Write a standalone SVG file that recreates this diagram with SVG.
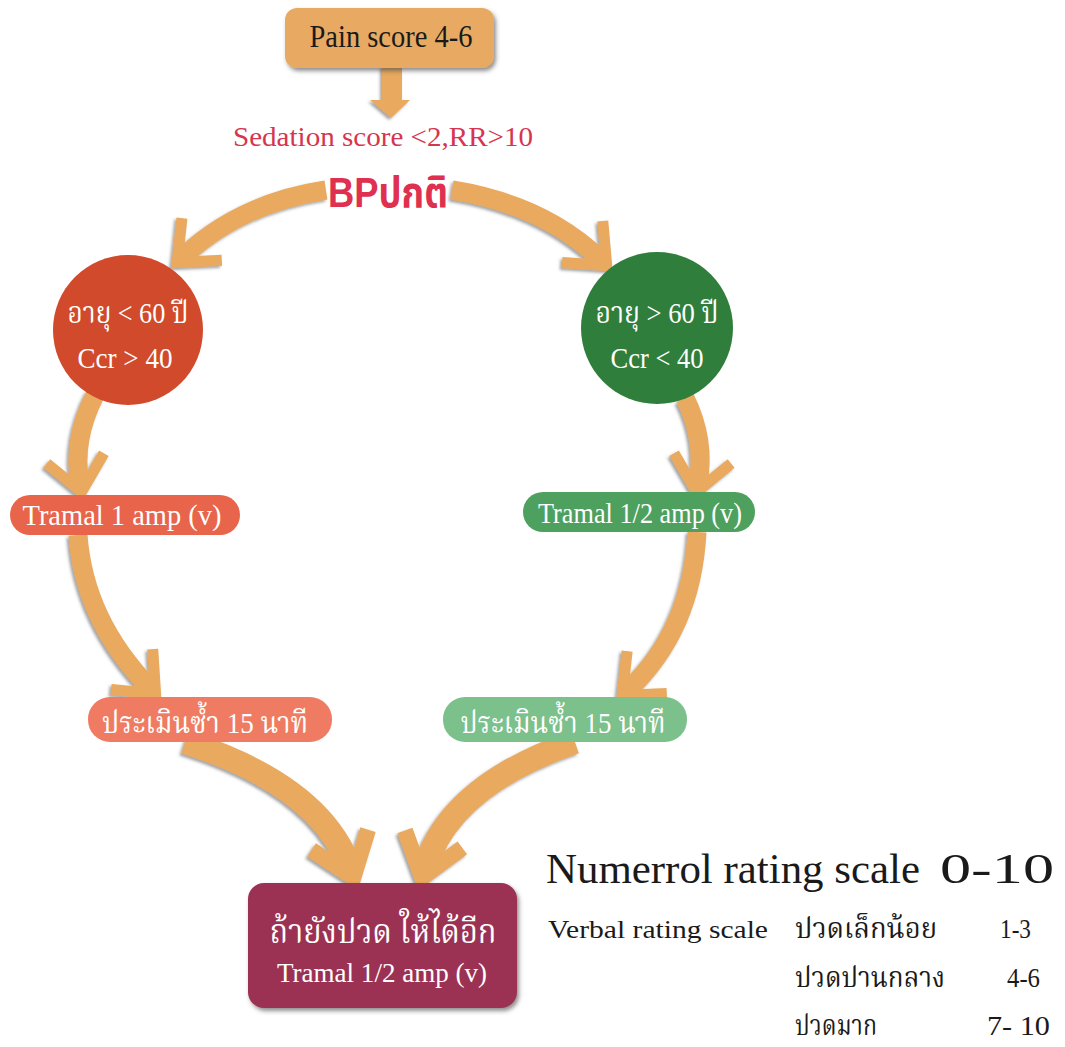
<svg xmlns="http://www.w3.org/2000/svg" width="1065" height="1047" viewBox="0 0 1065 1047">
<style>
.band{fill:none;stroke:#E9A95E;stroke-width:19;stroke-linecap:butt}
.wide{fill:none;stroke:#E9A95E;stroke-width:24;stroke-linecap:butt}
.lat{font-family:"Liberation Serif","Noto Serif Thai","Noto Sans Thai",serif}
.thai{font-family:"Liberation Serif","Noto Serif Thai","Noto Sans Thai","Noto Sans",serif}
.w{fill:#ffffff}
.k{fill:#1a1a1a}
</style>
<defs>
<filter id="sh" x="-20%" y="-20%" width="140%" height="140%">
<feDropShadow dx="-2" dy="2" stdDeviation="1.5" flood-color="#555555" flood-opacity="0.55"/>
</filter>
<filter id="bsh" x="-10%" y="-10%" width="120%" height="130%">
<feDropShadow dx="2" dy="3" stdDeviation="2" flood-color="#444444" flood-opacity="0.6"/>
</filter>
<marker id="chev" markerUnits="userSpaceOnUse" markerWidth="100" markerHeight="100" viewBox="-50 -50 100 100" refX="-8" refY="0" orient="auto" overflow="visible">
<path d="M -34 -29 L 0 0 L -34 29" fill="none" stroke="#E9A95E" stroke-width="11" stroke-linejoin="miter"/>
</marker>
<marker id="big" markerUnits="userSpaceOnUse" markerWidth="120" markerHeight="120" viewBox="-60 -60 120 120" refX="-10" refY="0" orient="auto" overflow="visible">
<path d="M -40 -30 L 0 0 L -40 30" fill="none" stroke="#E9A95E" stroke-width="16" stroke-linejoin="miter"/>
</marker>
</defs>
<rect width="1065" height="1047" fill="#ffffff"/>

<g id="connectors" filter="url(#sh)">
<polygon points="382,66 402,66 402,100 410,100 391,118 370,100 382,100" fill="#E9A95E"/>
<path class="band" d="M 326 190 Q 240 203 183 257" marker-end="url(#chev)"/>
<path class="band" d="M 452 190 Q 545 205 601 260" marker-end="url(#chev)"/>
<path class="band" d="M 95 395 Q 72 440 80 484" marker-end="url(#chev)"/>
<path class="band" d="M 78 535 Q 84 620 150 688" marker-end="url(#chev)"/>
<path class="band" d="M 685 398 Q 706 440 698 484" marker-end="url(#chev)"/>
<path class="band" d="M 697 532 Q 692 630 628 690" marker-end="url(#chev)"/>
<path class="wide" d="M 185 742 Q 320 785 350 868" marker-end="url(#big)"/>
<path class="wide" d="M 575 742 Q 450 785 425 868" marker-end="url(#big)"/>
</g>

<g id="pain">
<rect x="285" y="8" width="209" height="60" rx="12" fill="#E8AA62" filter="url(#bsh)"/>
<text x="391" y="47" class="lat k" font-size="31" text-anchor="middle" textLength="163" lengthAdjust="spacingAndGlyphs">Pain score 4-6</text>
</g>

<g id="sedation">
<text x="383" y="146" class="lat" font-size="28" fill="#D6354F" text-anchor="middle" textLength="300" lengthAdjust="spacingAndGlyphs">Sedation score &lt;2,RR&gt;10</text>
</g>

<g id="bp">
<text x="388" y="207" font-family="Liberation Sans, Noto Sans Thai, sans-serif" font-weight="bold" font-size="42" fill="#E0304F" stroke="#ffffff" stroke-width="2.5" paint-order="stroke" text-anchor="middle" textLength="120" lengthAdjust="spacingAndGlyphs">BPปกติ</text>
</g>

<g id="age-young">
<circle cx="128" cy="330" r="75" fill="#D14A2B"/>
<text x="128" y="323" class="thai w" font-size="30" text-anchor="middle" textLength="121" lengthAdjust="spacingAndGlyphs">อายุ &lt; 60 ปี</text>
<text x="125" y="368" class="lat w" font-size="29" text-anchor="middle" textLength="95" lengthAdjust="spacingAndGlyphs">Ccr &gt; 40</text>
</g>

<g id="age-old">
<circle cx="657" cy="328" r="76" fill="#2F7E3B"/>
<text x="657" y="323" class="thai w" font-size="30" text-anchor="middle" textLength="123" lengthAdjust="spacingAndGlyphs">อายุ &gt; 60 ปี</text>
<text x="657" y="368" class="lat w" font-size="29" text-anchor="middle" textLength="93" lengthAdjust="spacingAndGlyphs">Ccr &lt; 40</text>
</g>

<g id="tramal-1">
<rect x="10" y="495" width="230" height="40" rx="20" fill="#E8644A"/>
<text x="122" y="525" class="lat w" font-size="29" text-anchor="middle" textLength="199" lengthAdjust="spacingAndGlyphs">Tramal 1 amp (v)</text>
</g>

<g id="tramal-half">
<rect x="523" y="492" width="232" height="40" rx="20" fill="#4EA05E"/>
<text x="640" y="523" class="lat w" font-size="29" text-anchor="middle" textLength="204" lengthAdjust="spacingAndGlyphs">Tramal 1/2 amp (v)</text>
</g>

<g id="reassess-left">
<rect x="88" y="697" width="244" height="45" rx="22" fill="#EF7C62"/>
<text x="205" y="733" class="thai w" font-size="30" text-anchor="middle" textLength="206" lengthAdjust="spacingAndGlyphs">ประเมินซ้ำ 15 นาที</text>
</g>

<g id="reassess-right">
<rect x="443" y="697" width="244" height="45" rx="22" fill="#7CC08B"/>
<text x="563" y="733" class="thai w" font-size="30" text-anchor="middle" textLength="205" lengthAdjust="spacingAndGlyphs">ประเมินซ้ำ 15 นาที</text>
</g>

<g id="final">
<rect x="248" y="883" width="269" height="125" rx="16" fill="#9C3152" filter="url(#bsh)"/>
<text x="383" y="943" class="thai w" font-size="34" text-anchor="middle" textLength="227" lengthAdjust="spacingAndGlyphs">ถ้ายังปวด ให้ได้อีก</text>
<text x="382" y="982" class="lat w" font-size="28" text-anchor="middle" textLength="210" lengthAdjust="spacingAndGlyphs">Tramal 1/2 amp (v)</text>
</g>

<g id="legend">
<text x="546" y="883" class="lat k" font-size="42" textLength="374" lengthAdjust="spacingAndGlyphs">Numerrol rating scale</text>
<text x="940" y="883" class="lat k" font-size="42" textLength="114" lengthAdjust="spacingAndGlyphs">0-10</text>
<text x="548" y="938" class="lat k" font-size="26" textLength="220" lengthAdjust="spacingAndGlyphs">Verbal rating scale</text>
<text x="795" y="938" class="thai k" font-size="28" textLength="142" lengthAdjust="spacingAndGlyphs">ปวดเล็กน้อย</text>
<text x="1000" y="938" class="lat k" font-size="28" textLength="31" lengthAdjust="spacingAndGlyphs">1-3</text>
<text x="795" y="987" class="thai k" font-size="28" textLength="150" lengthAdjust="spacingAndGlyphs">ปวดปานกลาง</text>
<text x="1007" y="987" class="lat k" font-size="28" textLength="33" lengthAdjust="spacingAndGlyphs">4-6</text>
<text x="795" y="1035" class="thai k" font-size="28" textLength="82" lengthAdjust="spacingAndGlyphs">ปวดมาก</text>
<text x="987" y="1035" class="lat k" font-size="28" textLength="63" lengthAdjust="spacingAndGlyphs">7- 10</text>
</g>
</svg>
